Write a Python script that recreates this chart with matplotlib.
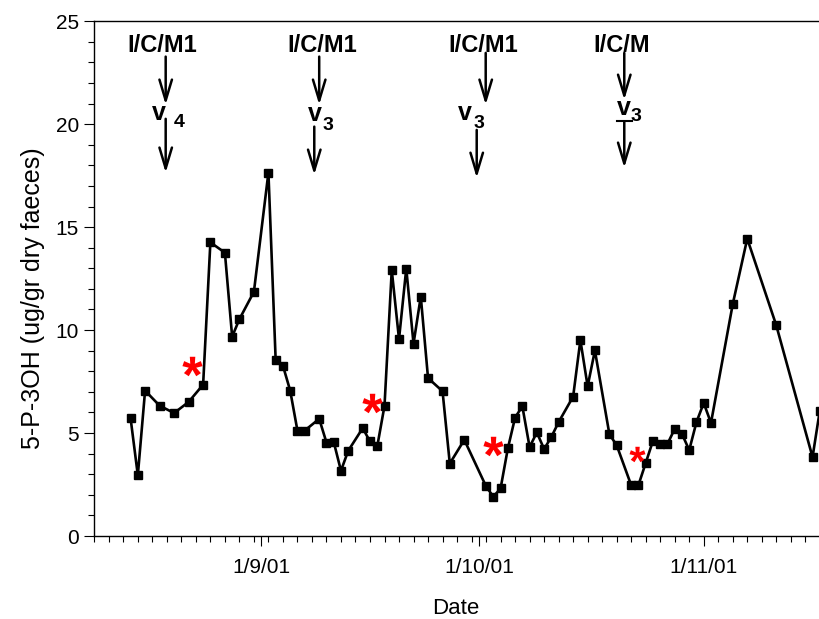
import numpy as np
import matplotlib
matplotlib.use("Agg")
import matplotlib.pyplot as plt
import matplotlib.dates as mdates
from matplotlib.ticker import FixedLocator, MultipleLocator, FuncFormatter
from matplotlib.textpath import TextPath
from matplotlib.font_manager import FontProperties
from matplotlib.path import Path

plt.rcParams["font.family"] = ["Liberation Sans", "DejaVu Sans"]

# sampling dates and 5-P-3OH values
dates = ["2001-08-14", "2001-08-15", "2001-08-16", "2001-08-18", "2001-08-20",
         "2001-08-22", "2001-08-24", "2001-08-25", "2001-08-27", "2001-08-28",
         "2001-08-29", "2001-08-31", "2001-09-02", "2001-09-03", "2001-09-04",
         "2001-09-05", "2001-09-06", "2001-09-07", "2001-09-09", "2001-09-10",
         "2001-09-11", "2001-09-12", "2001-09-13", "2001-09-15", "2001-09-16",
         "2001-09-17", "2001-09-18", "2001-09-19", "2001-09-20", "2001-09-21",
         "2001-09-22", "2001-09-23", "2001-09-24", "2001-09-26", "2001-09-27",
         "2001-09-29", "2001-10-02", "2001-10-03", "2001-10-04", "2001-10-05",
         "2001-10-06", "2001-10-07", "2001-10-08", "2001-10-09", "2001-10-10",
         "2001-10-11", "2001-10-12", "2001-10-14", "2001-10-15", "2001-10-16",
         "2001-10-17", "2001-10-19", "2001-10-20", "2001-10-22", "2001-10-23",
         "2001-10-24", "2001-10-25", "2001-10-26", "2001-10-27", "2001-10-28",
         "2001-10-29", "2001-10-30", "2001-10-31", "2001-11-01", "2001-11-02",
         "2001-11-05", "2001-11-07", "2001-11-11", "2001-11-16", "2001-11-17"]
values = [5.72, 2.95, 7.06, 6.33, 5.97, 6.51, 7.35, 14.26, 13.76, 9.68,
          10.53, 11.86, 17.65, 8.53, 8.27, 7.06, 5.12, 5.12, 5.69, 4.54,
          4.57, 3.17, 4.14, 5.24, 4.59, 4.35, 6.32, 12.91, 9.56, 12.99,
          9.34, 11.63, 7.67, 7.03, 3.52, 4.67, 2.41, 1.91, 2.31, 4.25,
          5.75, 6.30, 4.32, 5.03, 4.22, 4.81, 5.53, 6.77, 9.51, 7.27,
          9.01, 4.94, 4.41, 2.47, 2.47, 3.54, 4.62, 4.47, 4.47, 5.20,
          4.96, 4.17, 5.53, 6.46, 5.49, 11.26, 14.44, 10.23, 3.83, 6.09]

# axis start and day offsets of the annotations
axis_start = "2001-08-09"
axis_days = 101

star_days = [13.5, 38.3, 54.9, 74.8]
star_values = [8.27, 6.46, 4.38, 4.0]
star_sizes = [14.5, 14.5, 14.5, 11.5]

treat_labels = ["I/C/M1", "I/C/M1", "I/C/M1", "I/C/M"]
treat_days = [9.3, 31.45, 53.6, 72.7]
treat_y = 23.52
arrow1_days = [9.84, 31.0, 53.95, 73.05]
arrow1_top = [23.28, 23.28, 23.46, 23.46]
arrow1_tip = [20.94, 20.94, 20.94, 21.18]
v_days = [8.96, 30.38, 51.1, 73.0]
v_y = [20.21, 20.13, 20.21, 20.45]
sub_labels = ["4", "3", "3", "3"]
sub_days = [11.67, 32.2, 53.02, 74.66]
sub_y = [19.88, 19.72, 19.82, 20.13]
arrow2_days = [9.84, 30.32, 52.71, 73.05]
arrow2_top = [20.26, 19.88, 19.72, 20.13]
arrow2_tip = [17.64, 17.54, 17.39, 17.88]

t0 = mdates.date2num(np.datetime64(axis_start))
x = mdates.date2num(np.array(dates, dtype="datetime64[D]"))

fig = plt.figure(figsize=(8.19, 6.19), dpi=100)
ax = fig.add_axes([94.3 / 819, 83 / 619, axis_days * 7.255 / 819, 514.8 / 619])

ax.plot(x, values, color="black", lw=1.9, marker="s", ms=5.5, mec="black", mfc="black")

# red asterisks as centred text-path markers
tp = TextPath((0, 0), "*", prop=FontProperties(family="Liberation Sans", weight="bold"), size=1)
ext = tp.get_extents()
cen = np.array([(ext.x0 + ext.x1) / 2, (ext.y0 + ext.y1) / 2])
verts = tp.vertices.copy()
verts[tp.codes == Path.CLOSEPOLY] = cen
star = Path(verts - cen, tp.codes)
for d, v, s in zip(star_days, star_values, star_sizes):
    ax.plot(t0 + d, v, marker=star, ms=s, color="red", mew=0, ls="none")

arrow = dict(arrowstyle="->,head_length=1.5,head_width=0.45", lw=1.8, color="black",
             shrinkA=0, shrinkB=0, mutation_scale=10)
for i in range(4):
    ax.text(t0 + treat_days[i], treat_y, treat_labels[i], ha="center", va="baseline",
            fontsize=17, fontweight="bold")
    ax.annotate("", xy=(t0 + arrow1_days[i], arrow1_tip[i]),
                xytext=(t0 + arrow1_days[i], arrow1_top[i]), arrowprops=arrow)
    ax.text(t0 + v_days[i], v_y[i], "v", ha="center", va="baseline", fontsize=18,
            fontweight="bold")
    ax.text(t0 + sub_days[i], sub_y[i], sub_labels[i], ha="center", va="baseline",
            fontsize=14, fontweight="bold")
    ax.annotate("", xy=(t0 + arrow2_days[i], arrow2_tip[i]),
                xytext=(t0 + arrow2_days[i], arrow2_top[i]), arrowprops=arrow)
# small bar on top of the last lower arrow
ax.plot([t0 + arrow2_days[3] - 1.0, t0 + arrow2_days[3] + 1.0], [arrow2_top[3]] * 2,
        color="black", lw=1.5)

ax.set_xlim(t0, t0 + axis_days)
ax.set_ylim(0, 25)

ax.xaxis.set_major_locator(mdates.MonthLocator())
ax.xaxis.set_major_formatter(FuncFormatter(
    lambda v, p: "{d.day}/{d.month}/{y}".format(d=mdates.num2date(v), y=mdates.num2date(v).strftime("%y"))))
ax.xaxis.set_minor_locator(FixedLocator(t0 + np.arange(0, axis_days + 1, 2)))
ax.yaxis.set_major_locator(MultipleLocator(5))
ax.yaxis.set_minor_locator(MultipleLocator(1))

ax.tick_params(which="both", direction="out", width=0.8, labelsize=15)
ax.tick_params(which="major", length=7.5)
ax.tick_params(which="minor", length=4)
ax.tick_params(axis="x", pad=8)
ax.tick_params(axis="y", pad=3.5)
for sp in ax.spines.values():
    sp.set_linewidth(1.0)

ax.set_xlabel("Date", fontsize=16)
ax.xaxis.set_label_coords((456 - 94.3) / (axis_days * 7.255), -0.12)
ax.set_ylabel("5-P-3OH (ug/gr dry faeces)", fontsize=18)
ax.yaxis.set_label_coords(-0.0673, 0.461)

fig.savefig("out.png", dpi=100)
